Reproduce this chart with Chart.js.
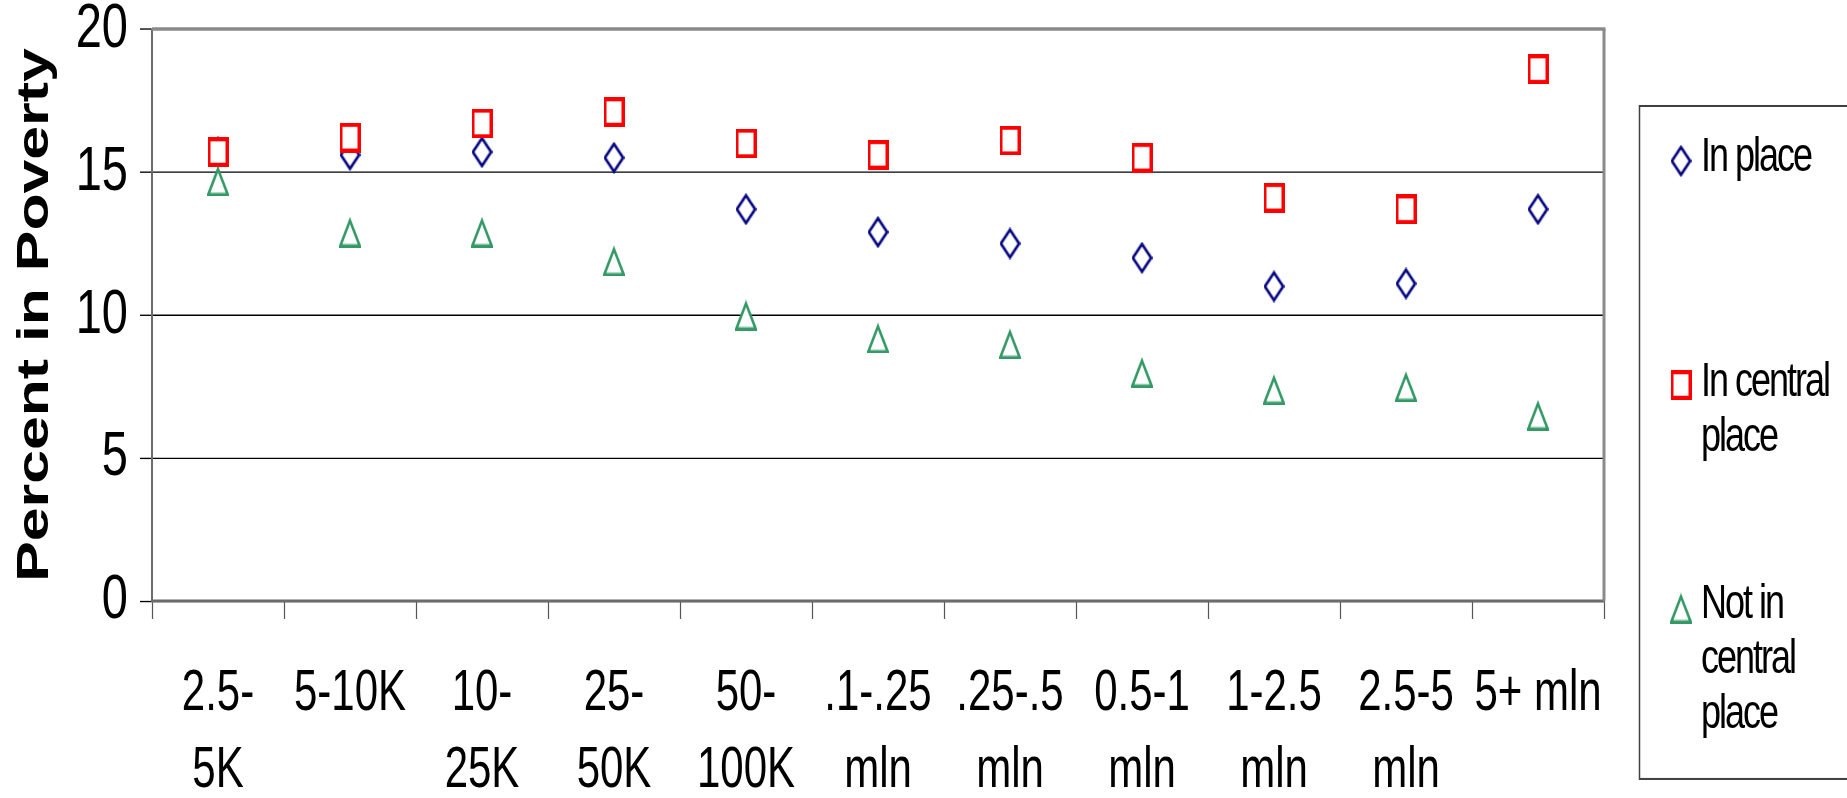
<!DOCTYPE html>
<html>
<head>
<meta charset="utf-8">
<title>Percent in Poverty by place size</title>
<script src="https://cdn.jsdelivr.net/npm/chart.js@4.4.1/dist/chart.umd.min.js"></script>
<style>
  html, body { margin: 0; padding: 0; background: #ffffff; overflow: hidden; }
  canvas { display: block; }
</style>
</head>
<body>
<canvas id="chart" width="1847" height="591"></canvas>
<script>
// Size classes of places (x-axis categories, one array per wrapped label)
const categories = [
  ['2.5-', '5K'], ['5-10K'], ['10-', '25K'], ['25-', '50K'], ['50-', '100K'],
  ['.1-.25', 'mln'], ['.25-.5', 'mln'], ['0.5-1', 'mln'], ['1-2.5', 'mln'],
  ['2.5-5', 'mln'], ['5+ mln']
];

// Percent in poverty for each series
const inPlace           = [15.7, 15.6, 15.7, 15.5, 13.7, 12.9, 12.5, 12.0, 11.0, 11.1, 13.7];
const inCentralPlace    = [15.7, 16.2, 16.7, 17.1, 16.0, 15.6, 16.1, 15.5, 14.1, 13.7, 18.6];
const notInCentralPlace = [14.7, 12.9, 12.9, 11.9, 10.0, 9.2, 9.0, 8.0, 7.4, 7.5, 6.5];

const seriesNames = ['In place', 'In central place', 'Not in central place'];
const legendLines = [['In place'], ['In central', 'place'], ['Not in', 'central', 'place']];
const yTicks = [0, 5, 10, 15, 20];
const yTitle = 'Percent in Poverty';

const FONT = "'Liberation Sans', Arial, sans-serif";
const PAGE_H = 798;   // drawn height of the page
const LOGICAL_H = 591; // layout height; drawing is stretched vertically to PAGE_H

// Hollow marker glyphs (white inside, coloured outline)
function marker(kind, color, lw, w, h) {
  const c = document.createElement('canvas');
  c.width = w; c.height = h;
  const g = c.getContext('2d');
  g.fillStyle = '#ffffff';
  g.strokeStyle = color;
  g.lineWidth = lw;
  g.lineJoin = 'miter';
  g.beginPath();
  if (kind === 'diamond') {
    g.moveTo(w / 2, 1.8); g.lineTo(w - 1.4, h / 2); g.lineTo(w / 2, h - 1.8); g.lineTo(1.4, h / 2);
  } else if (kind === 'square') {
    g.rect(lw / 2, lw / 2, w - lw, h - lw);
  } else {
    g.moveTo(w / 2, 3); g.lineTo(w - 1.3, h - 1.3); g.lineTo(1.3, h - 1.3);
  }
  g.closePath();
  g.fill();
  g.stroke();
  return c;
}

const markers = [
  marker('diamond', '#000080', 2.4, 21, 24),
  marker('square', '#ff0000', 3, 21, 22),
  marker('triangle', '#339966', 2.5, 22, 23)
];

// Vertical stretch of the whole drawing
const stretch = {
  id: 'stretch',
  beforeDraw(chart) {
    const c = chart.canvas;
    if (c.height !== PAGE_H) {
      c.height = PAGE_H;
    }
    c.style.height = PAGE_H + 'px';
    chart.ctx.setTransform(1, 0, 0, PAGE_H / chart.height, 0, 0);
  }
};

// Grey frame along the top and right of the plot area
const plotFrame = {
  id: 'plotFrame',
  beforeDatasetsDraw(chart) {
    const { ctx, chartArea: a } = chart;
    ctx.save();
    ctx.strokeStyle = '#8a8a8a';
    ctx.lineWidth = 2.7;
    ctx.beginPath();
    ctx.moveTo(a.left, a.top);
    ctx.lineTo(a.right + 1.5, a.top);
    ctx.stroke();
    ctx.lineWidth = 3;
    ctx.beginPath();
    ctx.moveTo(a.right, a.top);
    ctx.lineTo(a.right, a.bottom);
    ctx.stroke();
    ctx.restore();
  }
};

// Boxed legend on the right with wrapped series names
const boxedLegend = {
  id: 'boxedLegend',
  afterDraw(chart) {
    const ctx = chart.ctx;
    const markerY = [119.2, 285.1, 450.3];
    const textY = [117, 283, 447.5];
    const lineStep = 41;
    ctx.save();
    ctx.strokeStyle = '#404040';
    ctx.lineWidth = 1.5;
    ctx.strokeRect(1639.5, 78.5, 400, 498.4);
    ctx.font = '36px ' + FONT;
    ctx.fillStyle = '#000000';
    ctx.textAlign = 'left';
    ctx.textBaseline = 'middle';
    try { ctx.letterSpacing = '-2px'; } catch (e) {}
    chart.data.datasets.forEach((ds, i) => {
      const img = ds.pointStyle;
      ctx.drawImage(img, 1681 - img.width / 2, markerY[i] - img.height / 2);
      legendLines[i].forEach((line, k) => {
        ctx.fillText(line, 1701, textY[i] + k * lineStep);
      });
    });
    ctx.restore();
  }
};

Chart.defaults.font.family = FONT;
Chart.defaults.color = '#000000';

new Chart(document.getElementById('chart'), {
  type: 'line',
  data: {
    labels: categories,
    datasets: [
      { label: seriesNames[0], data: inPlace, pointStyle: markers[0], borderColor: '#000080', order: 2 },
      { label: seriesNames[1], data: inCentralPlace, pointStyle: markers[1], borderColor: '#ff0000', order: 1 },
      { label: seriesNames[2], data: notInCentralPlace, pointStyle: markers[2], borderColor: '#339966', order: 0 }
    ]
  },
  options: {
    responsive: false,
    animation: false,
    devicePixelRatio: 1,
    showLine: false,
    elements: { point: { radius: 11, hoverRadius: 11 } },
    layout: { padding: { top: 21.5, right: 243, bottom: 0, left: 0 } },
    plugins: {
      legend: { display: false },
      tooltip: { enabled: false }
    },
    scales: {
      x: {
        type: 'category',
        offset: true,
        grid: {
          display: true, offset: true, drawOnChartArea: false, drawTicks: true,
          tickLength: 13.3, tickColor: '#555555', tickWidth: 1.2
        },
        border: { display: true, color: '#6b6b6b', width: 2 },
        ticks: {
          color: '#000000',
          font: { size: 42, lineHeight: 1.36 },
          padding: 27,
          maxRotation: 0, minRotation: 0, autoSkip: false
        },
        afterFit(s) { s.height = LOGICAL_H - 445.1; s.paddingLeft = 0; s.paddingRight = 0; }
      },
      y: {
        min: 0, max: 20,
        afterBuildTicks(s) { s.ticks = yTicks.map(v => ({ value: v })); },
        grid: {
          color: c => (c.tick && c.tick.value === 20) ? 'rgba(0,0,0,0)' : '#000000',
          lineWidth: 1,
          drawTicks: true, tickLength: 12, tickColor: '#000000', tickWidth: 1
        },
        border: { display: true, color: '#6b6b6b', width: 2 },
        ticks: { color: '#000000', font: { size: 47, lineHeight: 1 }, padding: 12 },
        title: {
          display: true, text: yTitle, color: '#000000',
          font: { size: 45, weight: 'bold', lineHeight: 1.2 },
          padding: { top: 9, bottom: 0 },
          align: 'center'
        },
        afterFit(s) { s.width = 152; s.paddingTop = 0; s.paddingBottom = 0; }
      }
    }
  },
  plugins: [stretch, plotFrame, boxedLegend]
});
</script>
</body>
</html>
